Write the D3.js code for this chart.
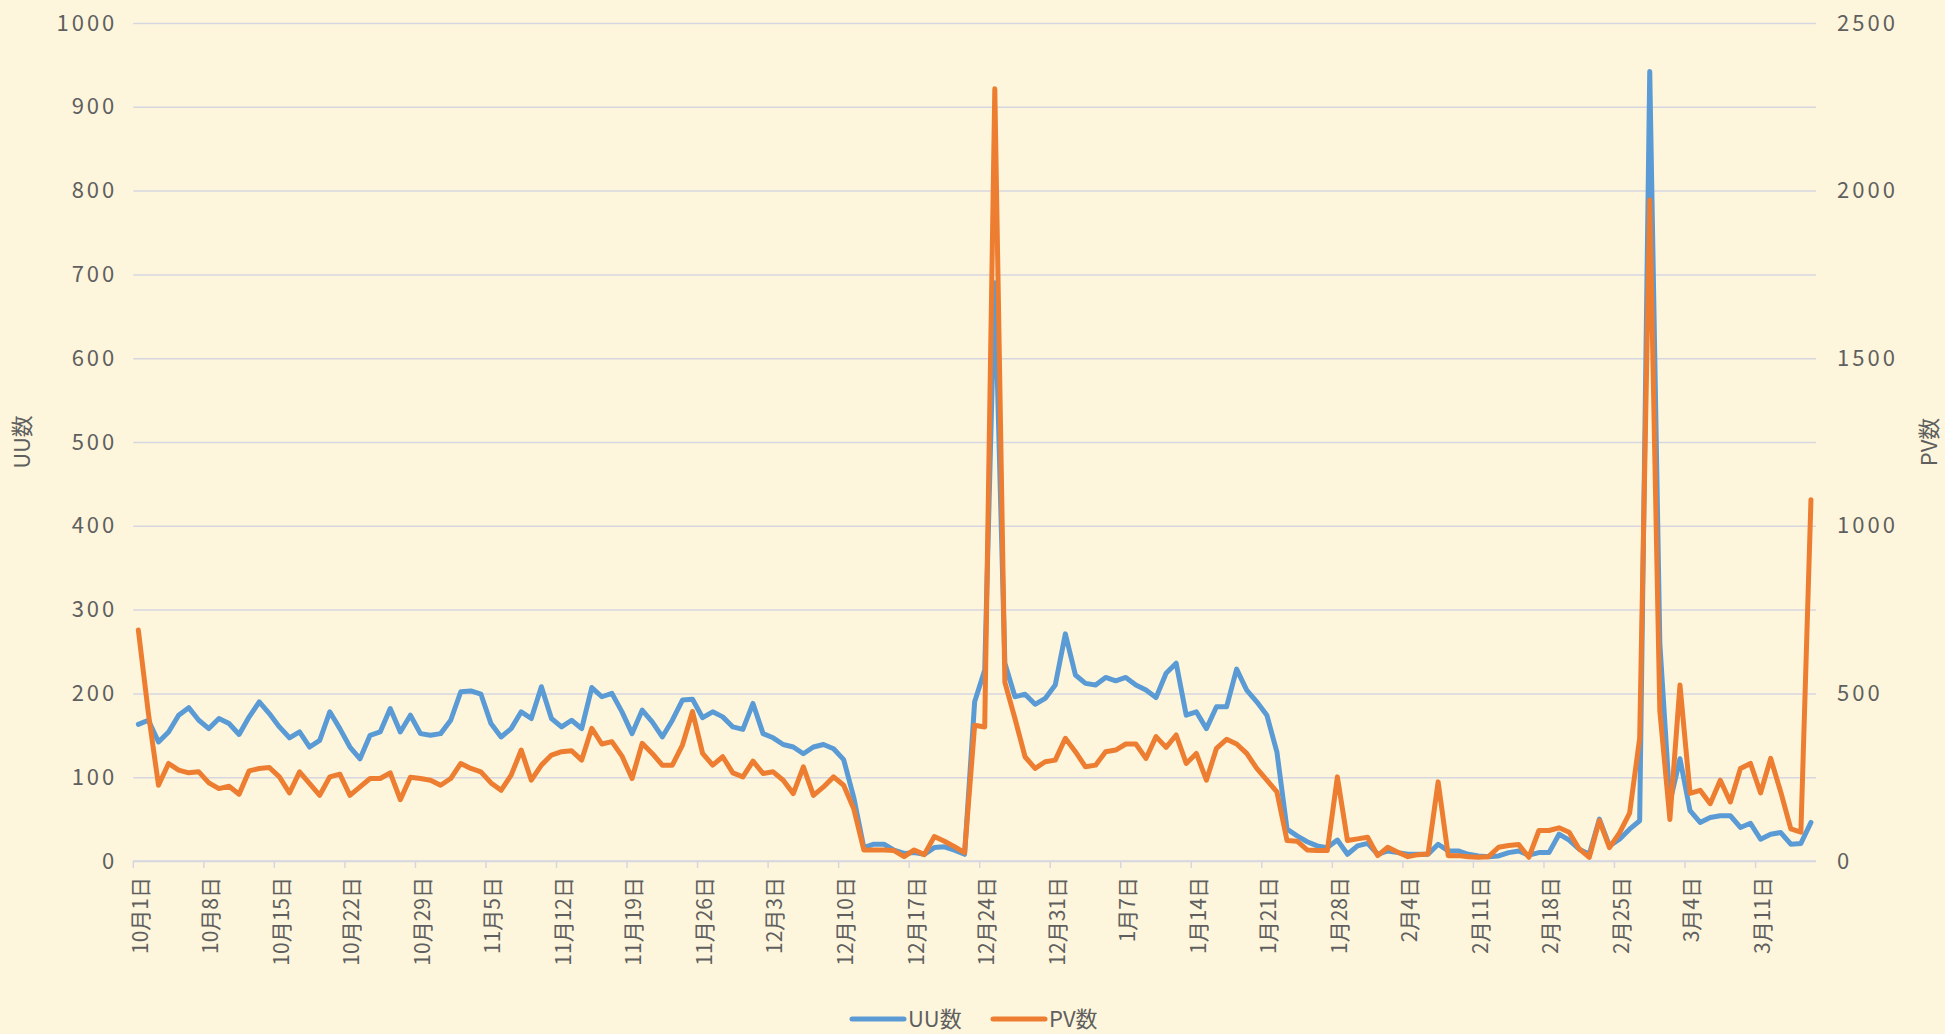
<!DOCTYPE html>
<html>
<head>
<meta charset="utf-8">
<script src="https://cdn.jsdelivr.net/npm/d3@7"></script>
<style>
  body { margin: 0; background: #fef6dc; }
  text { font-family: "Noto Sans CJK JP", "Noto Sans", sans-serif; fill: #5f5f5f; }
</style>
</head>
<body>
<svg></svg>
<script>
const w = 1945
const h = 1034

// daily values, 10月1日 .. 3月16日
const uuValues = [163,168,142,154,174,183,168,158,170,164,151,172,190,176,160,147,154,136,144,178,
  158,136,122,150,154,182,154,174,152,150,152,168,202,203,199,164,148,158,178,170,
  208,170,160,168,158,207,196,200,178,152,180,166,148,168,192,193,171,178,172,160,
  157,188,152,147,139,136,128,136,139,134,121,76,16,20,20,13,9,10,8,16,
  17,13,8,190,228,690,236,196,199,187,194,210,271,222,212,210,219,215,219,210,
  204,195,224,236,174,178,158,184,184,229,204,190,174,130,38,30,23,18,16,25,
  8,18,21,8,12,10,8,8,8,20,12,12,8,6,5,6,10,12,7,10,
  10,32,25,14,8,50,18,26,38,48,942,260,70,122,60,46,52,54,54,40,
  45,26,32,34,20,21,46]

const pvValues = [689,440,226,291,271,263,266,233,216,223,199,269,276,279,251,203,266,231,196,251,
  259,196,221,246,246,263,183,250,246,241,226,246,291,276,266,233,211,256,331,241,
  286,316,326,329,301,396,349,356,313,246,351,321,286,286,346,446,321,286,311,263,
  251,298,261,266,241,201,281,196,221,251,226,156,33,33,33,31,13,33,19,73,
  59,43,25,405,400,2304,533,425,311,276,296,301,366,326,281,286,326,331,349,349,
  306,371,339,376,291,321,241,336,363,349,321,276,241,206,61,59,33,31,31,251,
  61,66,71,16,41,26,13,19,21,236,16,16,13,11,13,41,46,49,11,91,
  91,99,86,36,11,121,40,84,143,366,1972,448,124,525,202,211,171,241,176,276,
  291,203,306,206,96,86,1078]

const tickLabels = ['10月1日','10月8日','10月15日','10月22日','10月29日','11月5日','11月12日',
  '11月19日','11月26日','12月3日','12月10日','12月17日','12月24日','12月31日','1月7日',
  '1月14日','1月21日','1月28日','2月4日','2月11日','2月18日','2月25日','3月4日','3月11日']

const uuTicks = d3.range(0, 1001, 100)
const pvTicks = d3.range(0, 2501, 500)
const seriesNames = ['UU数', 'PV数']
const colors = ['#5b9bd5', '#ed7d31']

const categories = d3.range(uuValues.length)

const svg = d3.select('svg')
  .attr('width', w)
  .attr('height', h);

svg.append('rect').attr('width', w).attr('height', h).attr('fill', '#fef6dc')

const plotLeft = 133.3, plotRight = 1816, plotTop = 23, plotBottom = 861

const xScale = d3.scaleBand()
  .domain(categories)
  .range([plotLeft, plotRight])
  .padding(0)
const bw = xScale.bandwidth()
const xc = i => xScale(i) + bw / 2

const yL = d3.scaleLinear().domain([0, 1000]).range([plotBottom, plotTop])
const yR = d3.scaleLinear().domain([0, 2500]).range([plotBottom, plotTop])

// left axis + gridlines
const yAxisG = svg.append('g')
  .attr('transform', `translate(${plotLeft},0)`)
  .call(d3.axisLeft(yL).tickValues(uuTicks).tickFormat(d3.format('d'))
    .tickSize(-(plotRight - plotLeft)).tickPadding(16))
yAxisG.select('.domain').remove()
yAxisG.selectAll('line').attr('stroke', '#d6d6e0').attr('stroke-width', 1.5)
yAxisG.selectAll('text')
  .attr('font-size', 22).attr('letter-spacing', '3px').attr('fill', '#5f5f5f')
  .style('font-family', '"Noto Sans CJK JP", sans-serif')

// right axis
const yRG = svg.append('g')
  .attr('transform', `translate(${plotRight},0)`)
  .call(d3.axisRight(yR).tickValues(pvTicks).tickFormat(d3.format('d'))
    .tickSize(0).tickPadding(21))
yRG.select('.domain').remove()
yRG.selectAll('text')
  .attr('font-size', 22).attr('letter-spacing', '3px').attr('fill', '#5f5f5f')
  .style('font-family', '"Noto Sans CJK JP", sans-serif')

// x axis
const xTickVals = tickLabels.map((d, k) => k * 7)
const xAxisG = svg.append('g')
  .attr('transform', `translate(0,${plotBottom})`)
  .call(d3.axisBottom(xScale).tickValues(xTickVals).tickSizeOuter(0)
    .tickFormat((d, k) => tickLabels[k]))
xAxisG.select('.domain').attr('stroke', '#d6d6e0').attr('stroke-width', 1.5)
  .attr('d', `M${plotLeft},0H${plotRight}`)
xAxisG.selectAll('.tick line')
  .attr('x1', -bw / 2).attr('x2', -bw / 2).attr('y2', 7)
  .attr('stroke', '#d6d6e0').attr('stroke-width', 1.5)
xAxisG.selectAll('.tick text')
  .attr('font-size', 21).attr('fill', '#5f5f5f')
  .attr('text-anchor', 'end')
  .attr('transform', 'translate(2,16) rotate(-90)')
  .attr('x', 0).attr('y', 0).attr('dy', '0.35em')
  .style('font-family', '"Noto Sans CJK JP", sans-serif')

// axis titles
svg.append('text')
  .attr('transform', `translate(22,${(plotTop + plotBottom) / 2}) rotate(-90)`)
  .attr('text-anchor', 'middle').attr('dy', '0.35em')
  .attr('font-size', 22)
  .text(seriesNames[0])
svg.append('text')
  .attr('transform', `translate(1929,${(plotTop + plotBottom) / 2}) rotate(-90)`)
  .attr('text-anchor', 'middle').attr('dy', '0.35em')
  .attr('font-size', 22)
  .text(seriesNames[1])

// lines
const uuLine = d3.line().x(i => xc(i)).y(i => yL(uuValues[i]))
const pvLine = d3.line().x(i => xc(i)).y(i => yR(pvValues[i]))

svg.append('path')
  .attr('d', uuLine(categories))
  .attr('fill', 'none').attr('stroke', colors[0]).attr('stroke-width', 5)
  .attr('stroke-linejoin', 'round').attr('stroke-linecap', 'round')
svg.append('path')
  .attr('d', pvLine(categories))
  .attr('fill', 'none').attr('stroke', colors[1]).attr('stroke-width', 5)
  .attr('stroke-linejoin', 'round').attr('stroke-linecap', 'round')

// legend
const legend = svg.append('g').attr('transform', 'translate(0,1019)')
const legendX = [852, 993]
seriesNames.forEach((name, k) => {
  legend.append('line')
    .attr('x1', legendX[k]).attr('x2', legendX[k] + 52)
    .attr('y1', 0).attr('y2', 0)
    .attr('stroke', colors[k]).attr('stroke-width', 5).attr('stroke-linecap', 'round')
  legend.append('text')
    .attr('x', legendX[k] + 56).attr('dy', '0.35em')
    .attr('font-size', 22)
    .text(name)
})
</script>
</body>
</html>
